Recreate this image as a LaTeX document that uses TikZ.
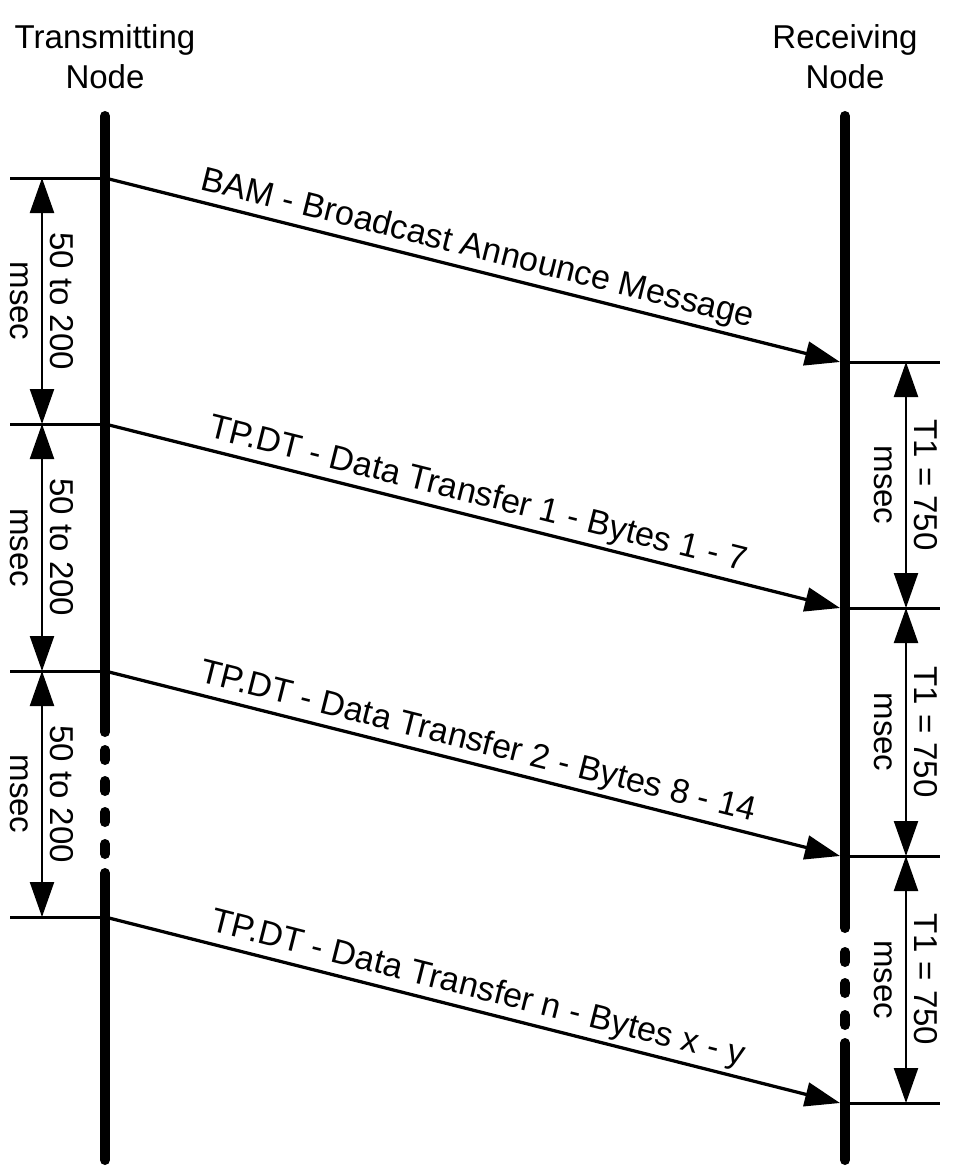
\documentclass[tikz,border=0pt]{standalone}
\usepackage{fontspec}
\setmainfont{Liberation Sans}
\usetikzlibrary{arrows.meta,positioning}

\begin{document}
\begin{tikzpicture}[
  x=0.2mm,y=-0.2mm,
  font=\fontsize{18.8}{22.8}\selectfont,
  >={Triangle[length=7mm,width=4.8mm]},
  %--- line styles ---
  life/.style  ={line width=2mm,line cap=round},
  msg/.style   ={->,line width=0.65mm},
  tick/.style  ={line width=0.6mm},
  dim/.style   ={<->,line width=0.45mm},
  %--- text styles ---
  head/.style  ={align=center,inner sep=0pt},
  msglbl/.style={above,sloped,inner sep=2pt,font=\fontsize{19.4}{23}\selectfont},
  dimlbl/.style={rotate=-90,align=center,inner sep=0pt},
]
\useasboundingbox (0,0) rectangle (952,1175);

%==================== headers ====================
\node[head] (tx) at (105,57) {Transmitting\\Node};
\node[head] (rx) at (845,57) {Receiving\\Node};

%==================== event points ====================
\coordinate (s1) at (105,178);
\coordinate (s2) at (105,424);
\coordinate (s3) at (105,671);
\coordinate (s4) at (105,917);
\coordinate (e1) at (840,362);
\coordinate (e2) at (840,608);
\coordinate (e3) at (840,856);
\coordinate (e4) at (840,1103);
\coordinate (dl) at (42,0);
\coordinate (dr) at (906,0);

%==================== lifelines (broken by dots) ====================
\draw[life] (105,116) -- (105,732);
\foreach \y in {750,781,812,844} \draw[life] (105,\y) -- ++(0,10);
\draw[life] (105,873) -- (105,1160);

\draw[life] (845,116) -- (845,928);
\foreach \y in {952,983,1015} \draw[life] (845,\y) -- ++(0,10);
\draw[life] (845,1043) -- (845,1160);

%==================== ticks ====================
\draw[tick] (s1) -- ++(-95,0);
\draw[tick] (s2) -- ++(-95,0);
\draw[tick] (s3) -- ++(-95,0);
\draw[tick] (s4) -- ++(-95,0);
\draw[tick] (e1) -- ++(100,0);
\draw[tick] (e2) -- ++(100,0);
\draw[tick] (e3) -- ++(100,0);
\draw[tick] (e4) -- ++(100,0);

%==================== messages ====================
\draw[msg] (s1) -- node[msglbl]{BAM - Broadcast Announce Message} (e1);
\draw[msg] (s2) -- node[msglbl]{TP.DT - Data Transfer 1 - Bytes 1 - 7} (e2);
\draw[msg] (s3) -- node[msglbl]{TP.DT - Data Transfer 2 - Bytes 8 - 14} (e3);
\draw[msg] (s4) -- node[msglbl]{TP.DT - Data Transfer n - Bytes x - y} (e4);

%==================== timing ====================
\draw[dim] (s1 -| dl) -- node[dimlbl]{50 to 200\\msec} (s2 -| dl);
\draw[dim] (s2 -| dl) -- node[dimlbl]{50 to 200\\msec} (s3 -| dl);
\draw[dim] (s3 -| dl) -- node[dimlbl]{50 to 200\\msec} (s4 -| dl);

\draw[dim] (e1 -| dr) -- node[dimlbl]{T1 = 750\\msec} (e2 -| dr);
\draw[dim] (e2 -| dr) -- node[dimlbl]{T1 = 750\\msec} (e3 -| dr);
\draw[dim] (e3 -| dr) -- node[dimlbl]{T1 = 750\\msec} (e4 -| dr);

\end{tikzpicture}
\end{document}
